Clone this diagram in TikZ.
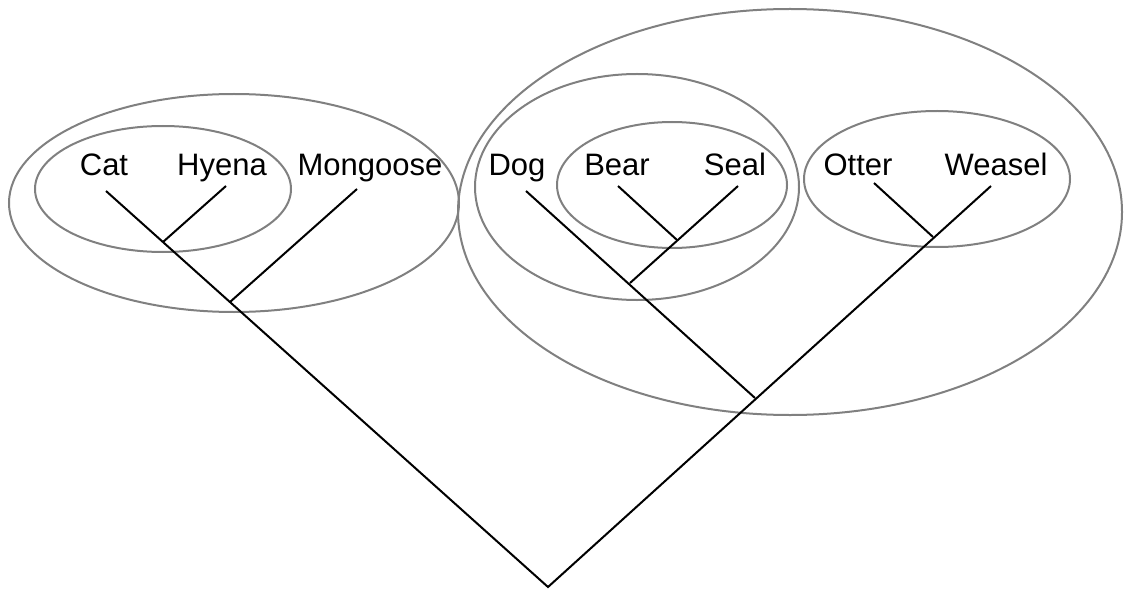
\documentclass[tikz,border=0pt]{standalone}
\usepackage{fontspec}
\setmainfont{Liberation Sans}
\usetikzlibrary{calc,positioning}
\tikzset{
myLabel/.style={
	anchor=base, inner sep=0pt,
	font=\fontsize{15.5}{18}\selectfont, text=black
}
, myBranch/.style={draw=black, line width=1pt}
, myClade/.style={draw=black!50, line width=1pt}
}

\begin{document}
\begin{tikzpicture}[x=0.5pt,y=-0.5pt]
	\useasboundingbox (0,0) rectangle (1127,588);
	% names
	\node[myLabel] (Cat)      at ( 104,176) {Cat};
	\node[myLabel] (Hyena)    at ( 222,176) {Hyena};
	\node[myLabel] (Mongoose) at ( 370,176) {Mongoose};
	\node[myLabel] (Dog)      at ( 517,176) {Dog};
	\node[myLabel] (Bear)     at ( 617,176) {Bear};
	\node[myLabel] (Seal)     at ( 735,176) {Seal};
	\node[myLabel] (Otter)    at ( 858,176) {Otter};
	\node[myLabel] (Weasel)   at ( 996,176) {Weasel};
	% tips
	\coordinate (tCat)      at ( 106,191);
	\coordinate (tHyena)    at ( 226,186);
	\coordinate (tMongoose) at ( 357,189);
	\coordinate (tDog)      at ( 526,191);
	\coordinate (tBear)     at ( 618,186);
	\coordinate (tSeal)     at ( 738,186);
	\coordinate (tOtter)    at ( 874,183);
	\coordinate (tWeasel)   at ( 991,186);
	% splits
	\coordinate (Root)      at ( 548,587);
	\coordinate (CatHy)     at ( 163,242);
	\coordinate (CatMo)     at ( 230,302);
	\coordinate (BearSeal)  at ( 677,240);
	\coordinate (DogBear)   at ( 630,283);
	\coordinate (OtWe)      at ( 933,237);
	\coordinate (DogOt)     at ( 755,398);
	% clades
	\draw[myClade] (163,189) ellipse [x radius=128, y radius=63];
	\draw[myClade] (234,203) ellipse [x radius=225, y radius=109];
	\draw[myClade] (790,212) ellipse [x radius=332, y radius=203];
	\draw[myClade] (637,187) ellipse [x radius=162, y radius=113];
	\draw[myClade] (672,185) ellipse [x radius=115, y radius=63];
	\draw[myClade] (937,179) ellipse [x radius=133, y radius=68];
	% branches
	\draw[myBranch] (tCat) -- (Root) -- (tWeasel);
	\draw[myBranch] (tHyena) -- (CatHy);
	\draw[myBranch] (tMongoose) -- (CatMo);
	\draw[myBranch] (tDog) -- (DogOt);
	\draw[myBranch] (tSeal) -- (DogBear);
	\draw[myBranch] (tBear) -- (BearSeal);
	\draw[myBranch] (tOtter) -- (OtWe);
\end{tikzpicture}
\end{document}
